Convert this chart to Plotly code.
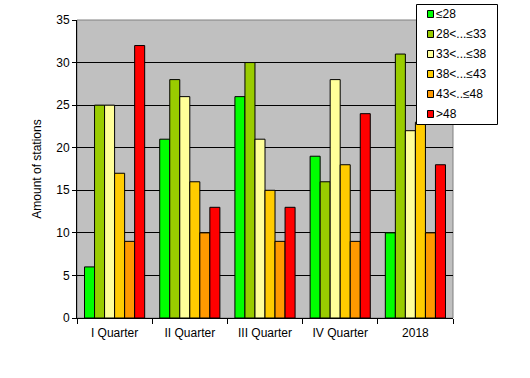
import plotly.graph_objects as go

categories = ["I Quarter", "II Quarter", "III Quarter", "IV Quarter", "2018"]
series_names = ["≤28", "28<...≤33", "33<...≤38", "38<...≤43", "43<..≤48", ">48"]
s1 = [6, 21, 26, 19, 10]
s2 = [25, 28, 30, 16, 31]
s3 = [25, 26, 21, 28, 22]
s4 = [17, 16, 15, 18, 23]
s5 = [9, 10, 9, 9, 10]
s6 = [32, 13, 13, 24, 18]
colors = ["#00FF00", "#99CC00", "#FFFF99", "#FFCC00", "#FF9900", "#FF0000"]
y_ticks = [0, 5, 10, 15, 20, 25, 30, 35]

W, H = 530, 378
# plot area in page pixels
X0, X1, Y0, Y1 = 77, 453, 20, 318
L, R, T, B = X0, W - X1, Y0, H - Y1
PW, PH = X1 - X0, Y1 - Y0


def px(x):
    return (x - X0) / PW


def py(y):
    return (Y1 - y) / PH


fig = go.Figure()
for name, vals, col in zip(series_names, [s1, s2, s3, s4, s5, s6], colors):
    fig.add_trace(go.Bar(x=categories, y=vals, name=name, showlegend=False,
                         marker=dict(color=col, line=dict(color="black", width=1))))

shapes = [dict(type="rect", xref="paper", yref="paper", x0=0, x1=1, y0=0, y1=1,
               line=dict(color="#808080", width=1), fillcolor="rgba(0,0,0,0)", layer="below")]
annotations = []
# legend box
shapes.append(dict(type="rect", xref="paper", yref="paper", x0=px(416.5), x1=px(497.5),
                   y0=py(124.5), y1=py(4.5), line=dict(color="black", width=1),
                   fillcolor="white", layer="above"))
for i, (name, col) in enumerate(zip(series_names, colors)):
    cy = 14 + 20 * i
    shapes.append(dict(type="rect", xref="paper", yref="paper", x0=px(427.5), x1=px(433.5),
                       y0=py(cy + 3.5), y1=py(cy - 3.5), line=dict(color="black", width=1),
                       fillcolor=col, layer="above"))
    annotations.append(dict(xref="paper", yref="paper", x=px(434), y=py(cy), text=name,
                            showarrow=False, xanchor="left", yanchor="middle",
                            font=dict(size=12, color="black")))

fig.update_layout(
    width=W, height=H,
    margin=dict(l=L, r=R, t=T, b=B, autoexpand=False),
    paper_bgcolor="white", plot_bgcolor="#C0C0C0",
    barmode="group", bargap=0.2, bargroupgap=0,
    font=dict(family="Liberation Sans, Arial", size=12, color="black"),
    showlegend=False,
    shapes=shapes, annotations=annotations,
)
fig.update_xaxes(showgrid=False, showline=True, linecolor="black", linewidth=1, automargin=False,
                 ticks="outside", ticklen=5, tickcolor="black", tickson="boundaries",
                 ticklabelstandoff=4)
fig.update_yaxes(range=[0, 35], tickvals=y_ticks, showgrid=True, gridcolor="black", gridwidth=1,
                 showline=True, linecolor="black", ticks="outside", ticklen=4, tickcolor="black",
                 zeroline=False, automargin=False,
                 title=dict(text="Amount of stations", standoff=12, font=dict(size=12)))

fig.write_html("out.html", config={"displayModeBar": False},
               post_script="document.body.style.margin='0px';")
